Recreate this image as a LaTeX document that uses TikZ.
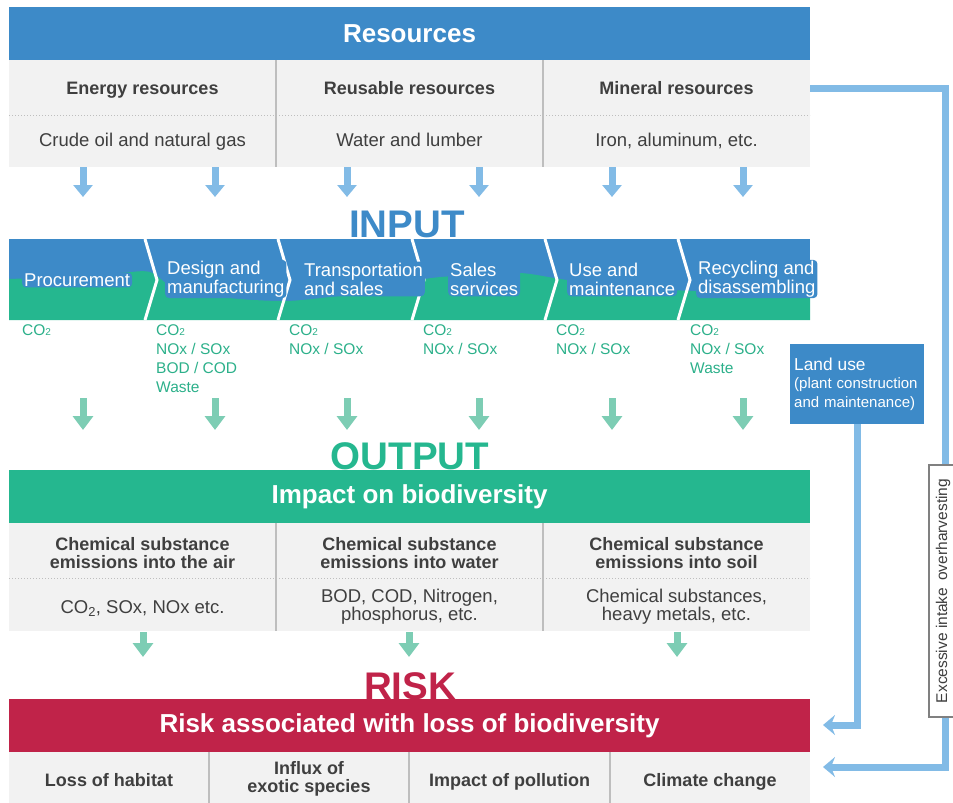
\documentclass[tikz,border=0pt]{standalone}
\usepackage{fontspec}
\setmainfont{Liberation Sans}
\usetikzlibrary{arrows.meta}
\definecolor{rblue}{HTML}{3D8AC8}
\definecolor{lblue}{HTML}{82BBE6}
\definecolor{rgreen}{HTML}{25B78F}
\definecolor{tgreen}{HTML}{2CB08A}
\definecolor{lgreen}{HTML}{7DCDB4}
\definecolor{rred}{HTML}{C02349}
\definecolor{tgray}{HTML}{F2F2F2}
\definecolor{dgray}{HTML}{3F3F3F}
\definecolor{sgray}{HTML}{BEBEBE}
\begin{document}
\begin{tikzpicture}[x=1pt,y=-1pt,
  hdr/.style={fill=#1, text=white, inner sep=0pt, minimum width=801pt, minimum height=53pt, font=\bfseries\fontsize{26}{28}\selectfont},
  cellhead/.style={text=dgray, font=\bfseries\fontsize{18}{18.5}\selectfont, align=center, inner sep=0pt},
  celltext/.style={text=dgray, font=\fontsize{18.5}{18}\selectfont, align=center, inner sep=0pt},
  bigtitle/.style={font=\bfseries\fontsize{38.5}{40}\selectfont, anchor=base, inner sep=0pt},
  stage/.style={fill=rblue, text=white, rounded corners=4pt, inner xsep=2pt, inner ysep=1pt, align=left, anchor=west, font=\fontsize{18.5}{19}\selectfont},
  emis/.style={text=tgreen, anchor=north west, inner sep=0pt, align=left, font=\fontsize{15.5}{19}\selectfont},
  barrow/.style={draw=lblue, line width=7pt, -{Triangle[length=12pt,width=19pt]}},
  garrow/.style={draw=lgreen, line width=7pt, -{Triangle[length=14pt,width=20pt]}},
  rarrow/.style={draw=lblue, line width=7pt, line join=miter, -{Stealth[length=12pt,width=20pt,inset=4pt]}},
  sep/.style={draw=sgray, line width=1.2pt},
  dots/.style={draw=sgray, line width=1pt, dotted},
]
\useasboundingbox (0,0) rectangle (953,803);

% ---------- Resources ----------
\node[hdr=rblue] (res) at (409.5,33.5) {Resources};
\fill[tgray] (9,60) rectangle (810,167);
\draw[sep] (276,60) -- (276,167);
\draw[sep] (543,60) -- (543,167);
\draw[dots] (9,115) -- (810,115);
\node[cellhead, anchor=base] (r1a) at (142.5,94.5) {Energy resources};
\node[cellhead, anchor=base] (r2a) at (409.5,94.5) {Reusable resources};
\node[cellhead, anchor=base] (r3a) at (676.5,94.5) {Mineral resources};
\node[celltext, anchor=base] (r1b) at (142.5,146.5) {Crude oil and natural gas};
\node[celltext, anchor=base] (r2b) at (409.5,146.5) {Water and lumber};
\node[celltext, anchor=base] (r3b) at (676.5,146.5) {Iron, aluminum, etc.};

\foreach \x [count=\i] in {83,215,347,479,612,743}{
  \coordinate (bs\i) at (\x,167);
  \coordinate (be\i) at (\x,197);
  \draw[barrow] (bs\i) -- (be\i);
}

% ---------- INPUT band ----------
\fill[rblue] (9,239) rectangle (810,320);
\fill[rgreen] plot[smooth] coordinates {(9,279) (60,277) (120,273) (150,272) (175,288) (230,298) (285,301) (330,297) (390,290) (425,279) (470,275) (520,273) (560,279) (610,286) (670,290) (730,292) (810,293)} -- (810,320) -- (9,320) -- cycle;
\foreach \x in {145,278,412,545,678}{
  \draw[white, line width=3pt] (\x,239) -- (\x+12,280) -- (\x,320);
}
\node[bigtitle, text=rblue] (input) at (407,237) {INPUT};

\node[stage] (s1) at (22,280) {Procurement};
\node[stage] (s2) at (165,279) {Design and\\manufacturing};
\node[stage] (s3) at (302,279) {Transportation\\and sales};
\node[stage] (s4) at (448,279) {Sales\\services};
\node[stage] (s5) at (567,279) {Use and\\maintenance};
\node[stage] (s6) at (696,279) {Recycling and\\disassembling};

\newcommand{\cotwo}{CO{\fontsize{10}{10}\selectfont 2}}
\node[emis] (e1) at (22,324) {\cotwo};
\node[emis] (e2) at (156,324) {\cotwo\\NOx / SOx\\BOD / COD\\Waste};
\node[emis] (e3) at (289,324) {\cotwo\\NOx / SOx};
\node[emis] (e4) at (423,324) {\cotwo\\NOx / SOx};
\node[emis] (e5) at (556,324) {\cotwo\\NOx / SOx};
\node[emis] (e6) at (690,324) {\cotwo\\NOx / SOx\\Waste};

\foreach \x [count=\i] in {83,215,347,479,612,743}{
  \coordinate (gs\i) at (\x,398);
  \coordinate (ge\i) at (\x,430);
  \draw[garrow] (gs\i) -- (ge\i);
}

% ---------- OUTPUT ----------
\node[bigtitle, text=rgreen] (output) at (410,469) {OUTPUT};
\node[hdr=rgreen] (impact) at (409.5,496.5) {Impact on biodiversity};
\fill[tgray] (9,523) rectangle (810,631);
\draw[sep] (276,523) -- (276,631);
\draw[sep] (543,523) -- (543,631);
\draw[dots] (9,578) -- (810,578);
\node[cellhead] (o1a) at (142.5,553) {Chemical substance\\emissions into the air};
\node[cellhead] (o2a) at (409.5,553) {Chemical substance\\emissions into water};
\node[cellhead] (o3a) at (676.5,553) {Chemical substance\\emissions into soil};
\node[celltext, anchor=base] (o1b) at (142.5,613.5) {CO\textsubscript{2}, SOx, NOx etc.};
\node[celltext] (o2b) at (409.5,607) {BOD, COD, Nitrogen,\\phosphorus, etc.};
\node[celltext] (o3b) at (676.5,607) {Chemical substances,\\heavy metals, etc.};

\foreach \x [count=\i] in {143,409,677}{
  \coordinate (hs\i) at (\x,632);
  \coordinate (he\i) at (\x,657);
  \draw[garrow] (hs\i) -- (he\i);
}

% ---------- RISK ----------
\node[bigtitle, text=rred] (risk) at (410,699) {RISK};
\node[hdr=rred] (riskband) at (409.5,725.5) {Risk associated with loss of biodiversity};
\fill[tgray] (9,752) rectangle (810,803);
\draw[sep] (209,752) -- (209,803);
\draw[sep] (409,752) -- (409,803);
\draw[sep] (610,752) -- (610,803);
\node[cellhead, anchor=base] (k1) at (109,786.5) {Loss of habitat};
\node[cellhead] (k2) at (309,779) {Influx of\\exotic species};
\node[cellhead, anchor=base] (k3) at (509.5,786.5) {Impact of pollution};
\node[cellhead, anchor=base] (k4) at (710,786.5) {Climate change};

% ---------- Land use ----------
\node[fill=rblue, text=white, anchor=north west, inner xsep=4pt, inner ysep=0pt, text width=126pt, minimum height=80pt, align=left, font=\fontsize{15}{18.5}\selectfont] (land) at (790,344) {{\fontsize{17.3}{18.5}\selectfont Land use}\\(plant construction\\and maintenance)};
\coordinate (lt) at (823,725);
\draw[rarrow] (land.south) |- (lt);

% ---------- Overharvesting loop ----------
\coordinate (o0) at (810,88);
\coordinate (o2) at (945,767);
\coordinate (o3) at (823,767);
\draw[rarrow] (o0) -| (o2) -- (o3);
\node[draw=gray, fill=white, line width=1.3pt, rotate=90, minimum width=252pt, minimum height=28pt, inner sep=0pt, text=dgray, font=\fontsize{15.5}{16}\selectfont] (exc) at (943,591) {Excessive intake\hspace{0.45em}overharvesting};
\end{tikzpicture}
\end{document}
